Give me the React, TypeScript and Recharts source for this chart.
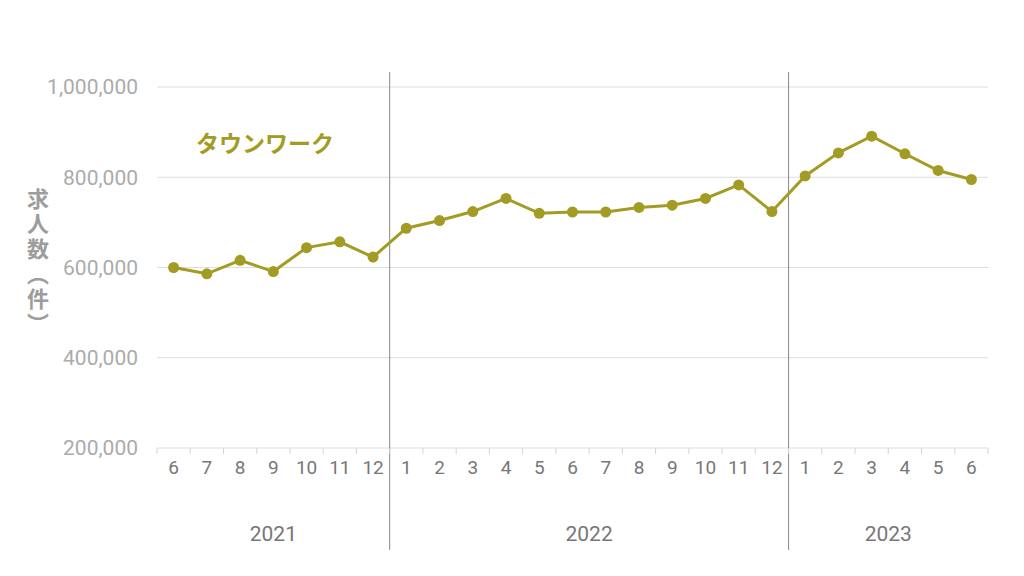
import React from 'react';
import {
  LineChart,
  Line,
  XAxis,
  YAxis,
  CartesianGrid,
  ReferenceLine,
} from 'recharts';

const monthLabels = [
  '6', '7', '8', '9', '10', '11', '12',
  '1', '2', '3', '4', '5', '6', '7', '8', '9', '10', '11', '12',
  '1', '2', '3', '4', '5', '6',
];
const years = ['2021', '2022', '2023'];
const monthsPerYear = [7, 12, 6];
const townworkValues = [
  600000, 586000, 616000, 591000, 644000, 657000, 623000,
  687000, 704000, 724000, 753000, 720000, 723000, 723000, 733000, 738000, 753000, 783000, 724000,
  803000, 854000, 891000, 852000, 815000, 795000,
];
const yTicks = [200000, 400000, 600000, 800000, 1000000];

const OLIVE = '#a39c24';
const GRID = '#dddddd';
const TICK = '#777777';
const SEP = '#888888';

// each month occupies one slot; the point sits in the middle of it
const data = monthLabels.map((m, i) => ({ pos: i + 0.5, month: m, value: townworkValues[i] }));
const monthCentres = data.map((d) => d.pos);
const slotDomain = [0, monthLabels.length];

const boundaries: number[] = [];
const yearCentres: number[] = [];
let acc = 0;
monthsPerYear.forEach((n, i) => {
  yearCentres.push(acc + n / 2);
  acc += n;
  if (i < monthsPerYear.length - 1) boundaries.push(acc);
});
const slotTicks = Array.from({ length: monthLabels.length + 1 }, (_, i) => i);

const YLabel = () => (
  <text
    x={38}
    y={263}
    textAnchor="middle"
    fill="#9d9d9d"
    fontSize={22}
    fontWeight={700}
    letterSpacing={3}
    fontFamily="'Noto Sans CJK JP', sans-serif"
    style={{ writingMode: 'vertical-rl' } as any}
  >
    求人数（件）
  </text>
);

export default function App() {
  return (
    <div style={{ position: 'absolute', left: 0, top: 0, width: 1024, height: 576, background: '#fff' }}>
      <LineChart
        width={1024}
        height={576}
        data={data}
        margin={{ top: 87, right: 36, left: 0, bottom: 8 }}
        style={{ fontFamily: "Roboto, 'Liberation Sans', sans-serif" }}
      >
        <CartesianGrid stroke={GRID} vertical={false} xAxisId="a_slot" />
        <XAxis
          xAxisId="a_slot"
          dataKey="pos"
          type="number"
          domain={slotDomain}
          allowDataOverflow
          ticks={slotTicks}
          interval={0}
          tickFormatter={() => ''}
          tick={{ fill: 'none' }}
          tickLine={{ stroke: '#d4d4d4' }}
          tickSize={6}
          axisLine={false}
          height={1}
        />
        <XAxis
          xAxisId="b_month"
          dataKey="pos"
          type="number"
          domain={slotDomain}
          allowDataOverflow
          ticks={monthCentres}
          tickFormatter={(v: number) => monthLabels[Math.floor(v)]}
          axisLine={false}
          tickLine={false}
          tickSize={0}
          tickMargin={12}
          interval={0}
          tick={{ fill: TICK, fontSize: 19 }}
          height={39}
        />
        <XAxis
          xAxisId="c_year"
          dataKey="pos"
          type="number"
          domain={slotDomain}
          allowDataOverflow
          ticks={yearCentres}
          tickFormatter={(v: number) => years[yearCentres.indexOf(v)]}
          axisLine={false}
          tickLine={false}
          tickSize={0}
          tickMargin={38}
          interval={0}
          tick={{ fill: TICK, fontSize: 21 }}
          height={80}
        />
        <YAxis
          domain={[200000, 1000000]}
          ticks={yTicks}
          tickFormatter={(v: number) => v.toLocaleString('en-US')}
          axisLine={false}
          tickLine={false}
          tickSize={0}
          tickMargin={19}
          tick={{ fill: '#ababab', fontSize: 21 }}
          width={157}
          label={<YLabel />}
        />
        {boundaries.map((b) => (
          <ReferenceLine
            key={b}
            xAxisId="a_slot"
            segment={[
              { x: b, y: -26000 },
              { x: b, y: 1033000 },
            ]}
            ifOverflow="visible"
            stroke={SEP}
            strokeWidth={1}
          />
        ))}
        <Line
          xAxisId="b_month"
          type="linear"
          dataKey="value"
          stroke={OLIVE}
          strokeWidth={3}
          dot={{ r: 5.5, fill: OLIVE, stroke: OLIVE, strokeWidth: 0 }}
          activeDot={false}
          isAnimationActive={false}
        />
      </LineChart>
      <div
        style={{
          position: 'absolute',
          left: 196,
          top: 125,
          color: OLIVE,
          fontSize: 23,
          fontWeight: 700,
          fontFamily: "'Noto Sans CJK JP', sans-serif",
          lineHeight: '34px',
        }}
      >
        タウンワーク
      </div>
    </div>
  );
}
